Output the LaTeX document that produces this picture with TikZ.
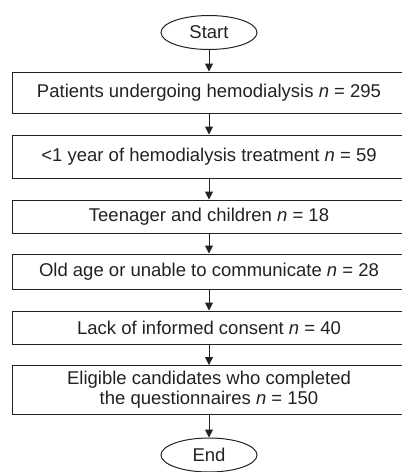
\documentclass[tikz,border=0pt]{standalone}
\usepackage{fontspec}
\setmainfont{Liberation Sans}
\usetikzlibrary{arrows.meta,shapes.geometric}
\definecolor{ink}{HTML}{222222}
\tikzset{
  box/.style = {draw = ink, text = ink, line width = 1pt, minimum width = 394pt, inner sep = 0pt, align = center, font = \fontsize{18.5}{20}\selectfont},
  term/.style = {draw = ink, text = ink, ellipse, line width = 1pt, minimum width = 96pt, minimum height = 34pt, inner sep = 0pt, font = \fontsize{18.5}{20}\selectfont},
  flow/.style = {draw = ink, line width = 1pt, -{Triangle[length = 8pt, width = 8pt]}},
}

\begin{document}
\begin{tikzpicture}[x = 1pt, y = -1pt]
  % page
  \useasboundingbox (0,0) rectangle (402,472);
  \clip (0,0) rectangle (402,472);
  % start
  \node[term] (start) at (209,32.5) {Start};
  % steps
  \node[box, minimum height = 41pt] (total) at (209,92.5) {Patients undergoing hemodialysis \textit{n} = 295};
  \node[box, minimum height = 43pt] (short) at (209,156.5) {<1 year of hemodialysis treatment \textit{n} = 59};
  \node[box, minimum height = 33pt] (young) at (209,216.5) {Teenager and children \textit{n} = 18};
  \node[box, minimum height = 35pt] (old) at (209,271.5) {Old age or unable to communicate \textit{n} = 28};
  \node[box, minimum height = 33pt] (consent) at (209,327.5) {Lack of informed consent \textit{n} = 40};
  \node[box, minimum height = 49pt] (eligible) at (209,390) {Eligible candidates who completed\\the questionnaires \textit{n} = 150};
  % end
  \node[term] (end) at (209,455) {End};
  % arrows
  \path[flow] (start) -- (total);
  \path[flow] (total) -- (short);
  \path[flow] (short) -- (young);
  \path[flow] (young) -- (old);
  \path[flow] (old) -- (consent);
  \path[flow] (consent) -- (eligible);
  \path[flow] (eligible) -- (end);
\end{tikzpicture}
\end{document}
